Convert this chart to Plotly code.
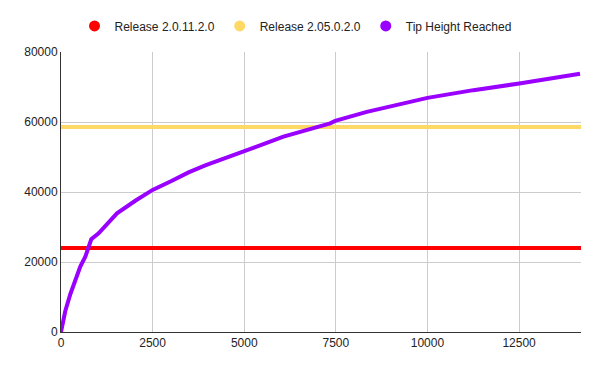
import plotly.graph_objects as go

# Data
tip_x = [0, 27, 117, 254, 390, 526, 663, 753, 826, 1026, 1298, 1527, 2027, 2500,
         3027, 3481, 3936, 5008, 6071, 7345, 7482, 8345, 9253, 10000, 11254,
         12508, 14163]
tip_y = [0, 1500, 6000, 10800, 14900, 18700, 21500, 24400, 26500, 28200, 31500,
         33900, 37500, 40600, 43200, 45600, 47600, 51800, 55800, 59600, 60300,
         62900, 65100, 66900, 69100, 71000, 73800]
x_end = 14190
release_a = 24000   # Release 2.0.11.2.0
release_b = 58600   # Release 2.05.0.2.0

names = ["Release 2.0.11.2.0", "Release 2.05.0.2.0", "Tip Height Reached"]
colors = ["#ff0000", "#ffd966", "#9900ff"]

fig = go.Figure()
fig.add_trace(go.Scatter(x=[0, x_end], y=[release_a, release_a], mode="lines",
                         line=dict(color=colors[0], width=4), showlegend=False))
fig.add_trace(go.Scatter(x=[0, x_end], y=[release_b, release_b], mode="lines",
                         line=dict(color=colors[1], width=4), showlegend=False))
fig.add_trace(go.Scatter(x=tip_x, y=tip_y, mode="lines",
                         line=dict(color=colors[2], width=4), showlegend=False))
for n, c in zip(names, colors):
    fig.add_trace(go.Scatter(x=[None], y=[None], mode="markers", name=n,
                             marker=dict(color=c, size=11, symbol="circle")))

fig.update_layout(
    width=600, height=371,
    margin=dict(l=61, r=19, t=52, b=39),
    paper_bgcolor="white", plot_bgcolor="white",
    font=dict(family="Liberation Sans, Arial, sans-serif", size=12, color="#222222"),
    legend=dict(orientation="h", x=0.026, xanchor="left", y=1.093, yanchor="middle",
                font=dict(size=12, color="#222222"), itemwidth=30,
                bgcolor="rgba(0,0,0,0)"),
    xaxis=dict(range=[0, x_end], tickvals=[0, 2500, 5000, 7500, 10000, 12500],
               tickformat="d",
               showgrid=True, gridcolor="#cccccc", gridwidth=1,
               showline=True, linecolor="#333333", linewidth=1,
               zeroline=False, ticks="", fixedrange=True),
    yaxis=dict(range=[0, 80000], tickvals=[0, 20000, 40000, 60000, 80000],
               tickformat="d",
               showgrid=True, gridcolor="#cccccc", gridwidth=1,
               showline=True, linecolor="#333333", linewidth=1,
               zeroline=False, ticks="", fixedrange=True),
)
fig.write_html("out.html")
